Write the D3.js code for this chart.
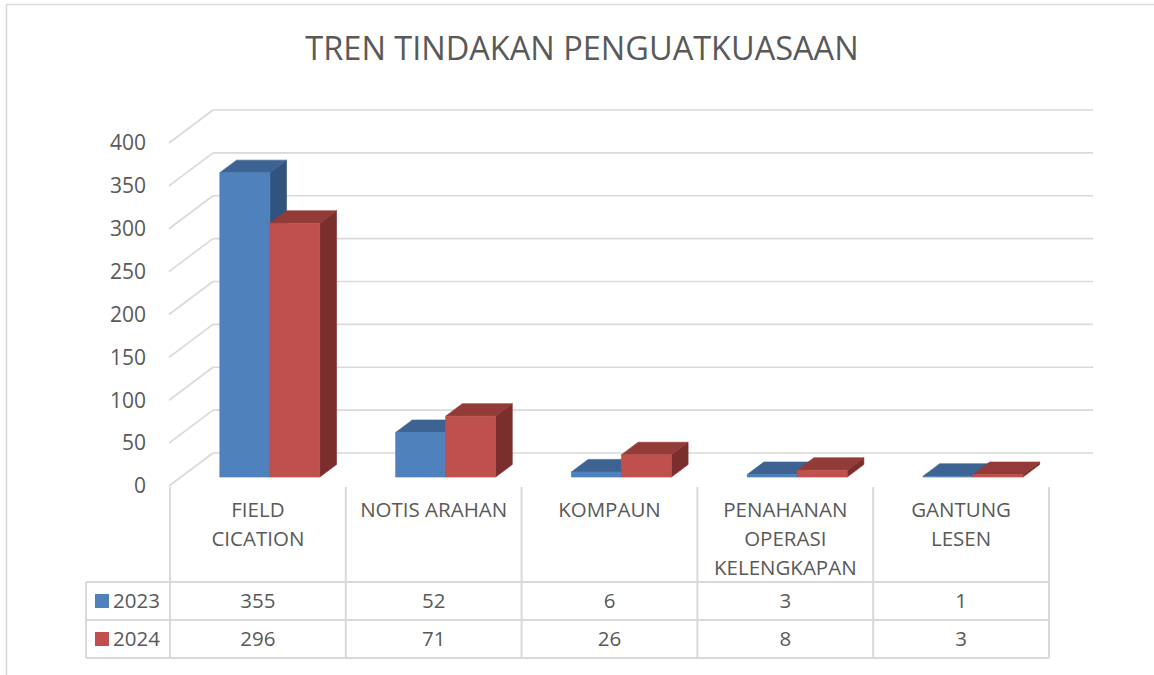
<!DOCTYPE html>
<html>
  <head>
    <meta charset="utf-8">
    <title>Tren tindakan penguatkuasaan</title>
    <script src="https://d3js.org/d3.v7.min.js"></script>
    <style>
      body { margin: 0; background: #fff; }
      svg text { font-family: "Open Sans", sans-serif; fill: #595959; }
    </style>
  </head>
  <body>
    <svg id="chart" width="1154" height="675"></svg>
    <script>
      // data
      var categories = ["FIELD CICATION", "NOTIS ARAHAN", "KOMPAUN", "PENAHANAN OPERASI KELENGKAPAN", "GANTUNG LESEN"];
      var categoryLines = [["FIELD", "CICATION"], ["NOTIS ARAHAN"], ["KOMPAUN"], ["PENAHANAN", "OPERASI", "KELENGKAPAN"], ["GANTUNG", "LESEN"]];
      var seriesNames = ["2023", "2024"];
      var values2023 = [355, 52, 6, 3, 1];
      var values2024 = [296, 71, 26, 8, 3];
      var yTicks = [0, 50, 100, 150, 200, 250, 300, 350, 400];

      var series = [
        { name: seriesNames[0], values: values2023, front: "#4f81bd", top: "#3c6392", side: "#32537e" },
        { name: seriesNames[1], values: values2024, front: "#c0504d", top: "#933b39", side: "#7a2f2e" }
      ];

      var svg = d3.select("#chart");

      // outer chart border
      svg.append("rect")
        .attr("x", 6.5).attr("y", 4.5)
        .attr("width", 1200).attr("height", 700)
        .attr("fill", "none")
        .attr("stroke", "#d9d9d9")
        .attr("stroke-width", 1.5);

      // title
      svg.append("text")
        .attr("x", 582).attr("y", 60)
        .attr("text-anchor", "middle")
        .style("font-size", "32.5px")
        .text("TREN TINDAKAN PENGUATKUASAAN");

      // 3d projection: depth vector for z from 0 (front) to 1 (back wall)
      var depth = { dx: 44, dy: -33 };
      var x = d3.scaleBand().domain(categories).range([170, 1049]);
      var y = d3.scaleLinear().domain([0, 400]).range([486, 143]);
      function px(xv, z) { return xv + z * depth.dx; }
      function py(v, z) { return y(v) + z * depth.dy; }

      // gridlines (side wall diagonals + back wall)
      var grid = svg.append("g").attr("stroke", "#d9d9d9").attr("stroke-width", 1.6).attr("fill", "none");
      grid.selectAll(".diag").data(yTicks).enter().append("line")
        .attr("x1", px(x.range()[0] - 1, 0)).attr("y1", function(d) { return py(d, 0); })
        .attr("x2", px(x.range()[0] - 1, 1)).attr("y2", function(d) { return py(d, 1); });
      grid.selectAll(".back").data(yTicks).enter().append("line")
        .attr("x1", px(x.range()[0] - 1, 1)).attr("y1", function(d) { return py(d, 1); })
        .attr("x2", px(x.range()[1], 1)).attr("y2", function(d) { return py(d, 1); });

      // y tick labels
      svg.append("g").selectAll("text").data(yTicks).enter().append("text")
        .attr("x", 146).attr("y", function(d) { return y(d); })
        .attr("dy", "0.35em")
        .attr("text-anchor", "end")
        .style("font-size", "21px")
        .text(function(d) { return d; });

      // bars
      var zFront = 0.27, zBack = 0.65, barW = 50;
      var inner = d3.scaleBand().domain(seriesNames).range([-barW, barW]);
      series.forEach(function(s) {
        var g = svg.append("g");
        s.values.forEach(function(v, i) {
          var x0 = x(categories[i]) + x.bandwidth() / 2 + inner(s.name);
          var x1 = x0 + inner.bandwidth();
          function pt(xv, val, z) { return [px(xv, z), py(val, z)]; }
          var side = [pt(x1, 0, zFront), pt(x1, 0, zBack), pt(x1, v, zBack), pt(x1, v, zFront)];
          var top = [pt(x0, v, zFront), pt(x0, v, zBack), pt(x1, v, zBack), pt(x1, v, zFront)];
          var front = [pt(x0, 0, zFront), pt(x1, 0, zFront), pt(x1, v, zFront), pt(x0, v, zFront)];
          [[side, s.side], [top, s.top], [front, s.front]].forEach(function(f) {
            g.append("polygon")
              .attr("points", f[0].map(function(p) { return p.join(","); }).join(" "))
              .attr("fill", f[1])
              .attr("stroke", f[1])
              .attr("stroke-width", 0.6)
              .attr("stroke-linejoin", "round");
          });
        });
      });

      // data table
      var table = svg.append("g");
      var tableLeft = 86, rowTop = [582, 620, 658];
      var tline = table.append("g").attr("stroke", "#d9d9d9").attr("stroke-width", 2);
      rowTop.forEach(function(r) {
        tline.append("line").attr("x1", tableLeft).attr("x2", x.range()[1]).attr("y1", r).attr("y2", r);
      });
      tline.append("line").attr("x1", tableLeft).attr("x2", tableLeft).attr("y1", rowTop[0]).attr("y2", rowTop[2]);
      categories.concat([null]).forEach(function(c) {
        var xv = c === null ? x.range()[1] : x(c);
        tline.append("line").attr("x1", xv).attr("x2", xv).attr("y1", 487).attr("y2", rowTop[2]);
      });

      // category labels
      categories.forEach(function(c, i) {
        var t = table.append("text")
          .attr("x", x(c) + x.bandwidth() / 2)
          .attr("y", 517)
          .attr("text-anchor", "middle")
          .style("font-size", "20.5px");
        categoryLines[i].forEach(function(l, j) {
          t.append("tspan").attr("x", x(c) + x.bandwidth() / 2).attr("dy", j === 0 ? 0 : 29).text(l);
        });
      });

      // legend + values rows
      series.forEach(function(s, si) {
        var cy = (rowTop[si] + rowTop[si + 1]) / 2;
        table.append("rect")
          .attr("x", 95).attr("y", cy - 7).attr("width", 14).attr("height", 14)
          .attr("fill", s.front);
        table.append("text")
          .attr("x", 113).attr("y", cy).attr("dy", "0.35em")
          .style("font-size", "20.5px")
          .text(s.name);
        table.selectAll(null).data(s.values).enter().append("text")
          .attr("x", function(d, i) { return x(categories[i]) + x.bandwidth() / 2; })
          .attr("y", cy).attr("dy", "0.35em")
          .attr("text-anchor", "middle")
          .style("font-size", "20.5px")
          .text(function(d) { return d; });
      });
    </script>
  </body>
</html>
